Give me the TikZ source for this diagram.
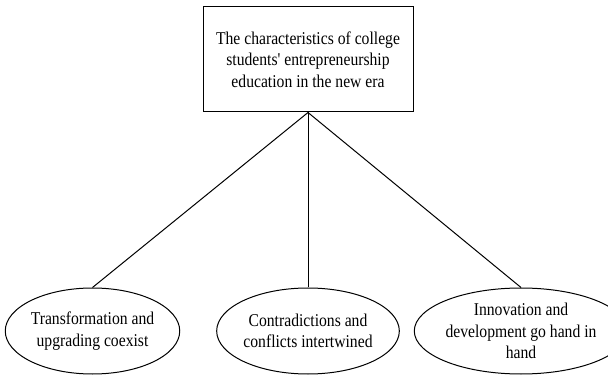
\documentclass[tikz,border=0pt]{standalone}
\usepackage{fontspec}
\setmainfont{Liberation Serif}[FakeStretch=0.87, Ligatures=TeXOff]
\usetikzlibrary{shapes.geometric}
\begin{document}
\begin{tikzpicture}[x=1pt,y=1pt,
  every node/.style={font=\fontsize{18}{21.5}\selectfont, align=center, line width=1pt, draw=black},
  topbox/.style={rectangle, minimum width=210pt, minimum height=105pt, inner sep=0pt},
  leaf/.style={ellipse, minimum width=172pt, minimum height=86pt, inner sep=0pt},
  link/.style={line width=1pt, black}]
\useasboundingbox (0,0) rectangle (608,375);
\node[topbox] (root) at (308,315.5) {The characteristics of college\\students' entrepreneurship\\education in the new era};
\node[leaf, minimum width=169pt] (l) at (92.5,44) {Transformation and\\upgrading coexist};
\node[leaf, minimum width=174pt] (m) at (308,44) {Contradictions and\\conflicts intertwined};
\node[leaf] (r) at (521,44) {Innovation and\\development go hand in\\hand};
\draw[link] (root.south) -- (l.north);
\draw[link] (root.south) -- (m.north);
\draw[link] (root.south) -- (r.north);
\end{tikzpicture}
\end{document}
